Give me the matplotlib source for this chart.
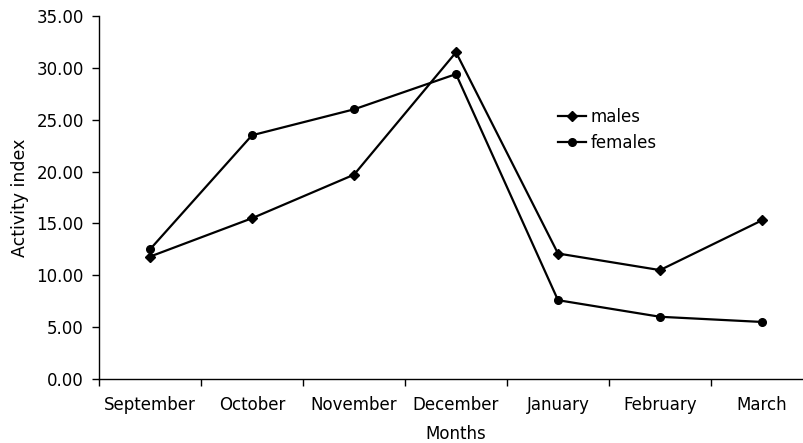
import matplotlib
matplotlib.use("Agg")
import matplotlib.pyplot as plt

months = ["September", "October", "November", "December", "January", "February", "March"]
males = [11.8, 15.5, 19.7, 31.5, 12.1, 10.5, 15.3]
females = [12.5, 23.5, 26.0, 29.4, 7.6, 6.0, 5.5]
yticks = [0, 5, 10, 15, 20, 25, 30, 35]

plt.rcParams['font.family'] = ['DejaVu Sans']
fig = plt.figure(figsize=(8.04, 4.43), dpi=100)
ax = fig.add_axes([99/804, 1-379/443, 714/804, 363/443])

x = list(range(len(months)))
ax.plot(x, males, color='black', lw=1.6, marker='D', ms=5.5, label='males')
ax.plot(x, females, color='black', lw=1.6, marker='o', ms=5.5, label='females')

ax.set_xlim(-0.5, len(months) - 0.5)
ax.set_ylim(0, 35)
ax.set_yticks(yticks)
ax.set_yticklabels([f"{v:.2f}" for v in yticks])
ax.set_xticks([i - 0.5 for i in range(len(months) + 1)])
ax.set_xticklabels([])
ax.set_xticks(x, minor=True)
ax.set_xticklabels(months, minor=True)
ax.tick_params(axis='x', which='minor', length=0, pad=12, labelsize=12)
ax.tick_params(axis='x', which='major', length=5, direction='out', width=1)
ax.tick_params(axis='y', length=5, direction='out', width=1, labelsize=12, pad=6)
for s in ['top', 'right']:
    ax.spines[s].set_visible(False)
for s in ['left', 'bottom']:
    ax.spines[s].set_linewidth(1)

ax.set_xlabel("Months", fontsize=12, labelpad=8)
ax.set_ylabel("Activity index", fontsize=12.5, labelpad=5)

ax.legend(frameon=False, fontsize=12, loc='center left',
          bbox_to_anchor=(0.643, 0.686), handlelength=1.7, handletextpad=0.25,
          labelspacing=0.45, borderaxespad=0, borderpad=0)

fig.savefig("out.png", dpi=100)
